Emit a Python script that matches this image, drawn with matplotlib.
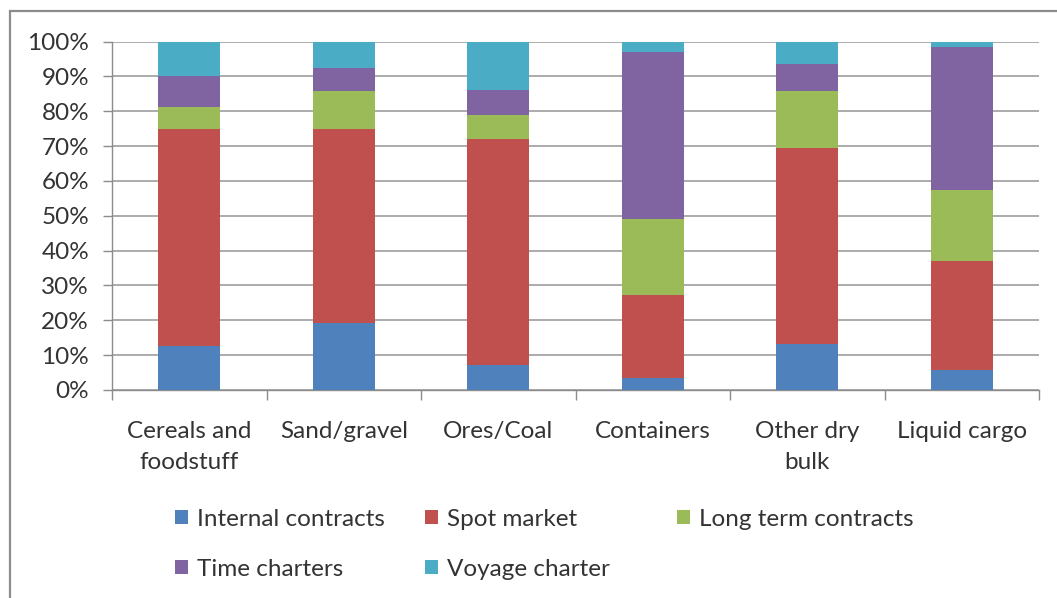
import matplotlib
matplotlib.use("Agg")
import matplotlib.pyplot as plt
from matplotlib.patches import Rectangle
import numpy as np

categories = ["Cereals and\nfoodstuff", "Sand/gravel", "Ores/Coal", "Containers", "Other dry\nbulk", "Liquid cargo"]
series_names = ["Internal contracts", "Spot market", "Long term contracts", "Time charters", "Voyage charter"]
internal = [12.7, 19.2, 7.2, 3.3, 13.1, 5.6]
spot = [62.3, 55.8, 64.7, 23.9, 56.2, 31.4]
long_term = [6.3, 10.9, 7.1, 22.0, 16.6, 20.4]
time_ch = [8.7, 6.5, 7.2, 47.7, 7.6, 41.1]
voyage = [10.0, 7.6, 13.8, 3.1, 6.5, 1.5]
yticks = [0, 10, 20, 30, 40, 50, 60, 70, 80, 90, 100]
ytick_labels = ["0%", "10%", "20%", "30%", "40%", "50%", "60%", "70%", "80%", "90%", "100%"]

colors = ["#4F81BD", "#C0504D", "#9BBB59", "#8064A2", "#4BACC6"]

plt.rcParams['font.family'] = ['Lato', 'DejaVu Sans']
FS = 17.5
W, H = 1057, 598
fig = plt.figure(figsize=(W / 100, H / 100), dpi=100)

# outer frame (extends beyond right and bottom edges)
fig.patches.append(Rectangle((10 / W, -0.05), 1.2, 1 - 11 / H + 0.05, transform=fig.transFigure,
                             fill=False, edgecolor="#8C8C8C", linewidth=1.6))

ax = fig.add_axes([112 / W, (H - 390) / H, (1039 - 112) / W, (390 - 41.5) / H])

x = np.arange(len(categories))
data = [internal, spot, long_term, time_ch, voyage]
bottom = np.zeros(len(categories))
handles = []
for vals, c, name in zip(data, colors, series_names):
    b = ax.bar(x, vals, 0.4, bottom=bottom, color=c, label=name, zorder=3)
    handles.append(b)
    bottom += np.array(vals)

ax.set_xlim(-0.5, len(categories) - 0.5)
ax.set_ylim(0, 100)
ax.set_yticks(yticks)
ax.set_yticklabels(ytick_labels, fontsize=FS, color="#333333")
ax.yaxis.grid(True, color="#ABABAB", linewidth=1.4, zorder=0)
ax.set_axisbelow(True)

ax.set_xticks(x)
ax.set_xticklabels(categories, fontsize=FS, color="#333333", linespacing=1.6)
ax.set_xticks(np.arange(-0.5, len(categories)), minor=True)
ax.tick_params(axis='x', which='major', length=0, pad=22)
ax.tick_params(axis='x', which='minor', length=7, width=1, color="#8C8C8C", direction='out')
ax.tick_params(axis='y', length=6.5, width=1, color="#8C8C8C", pad=10)

for s in ["top", "right"]:
    ax.spines[s].set_visible(False)
for s in ["left", "bottom"]:
    ax.spines[s].set_color("#8C8C8C")
    ax.spines[s].set_linewidth(1.0)

# legend entries placed like the original (two rows)
positions = [(175, 519), (425, 519), (677, 519), (175, 569), (425, 569)]
for h, name, (px, py) in zip(handles, series_names, positions):
    fig.legend(handles=[h], labels=[name], loc='center left',
               bbox_to_anchor=(px / W, (H - py) / H), bbox_transform=fig.transFigure,
               frameon=False, fontsize=FS, borderpad=0, borderaxespad=0,
               handlelength=0.55, handleheight=0.55, handletextpad=0.35,
               labelcolor="#333333")

fig.savefig("out.png", dpi=100)
